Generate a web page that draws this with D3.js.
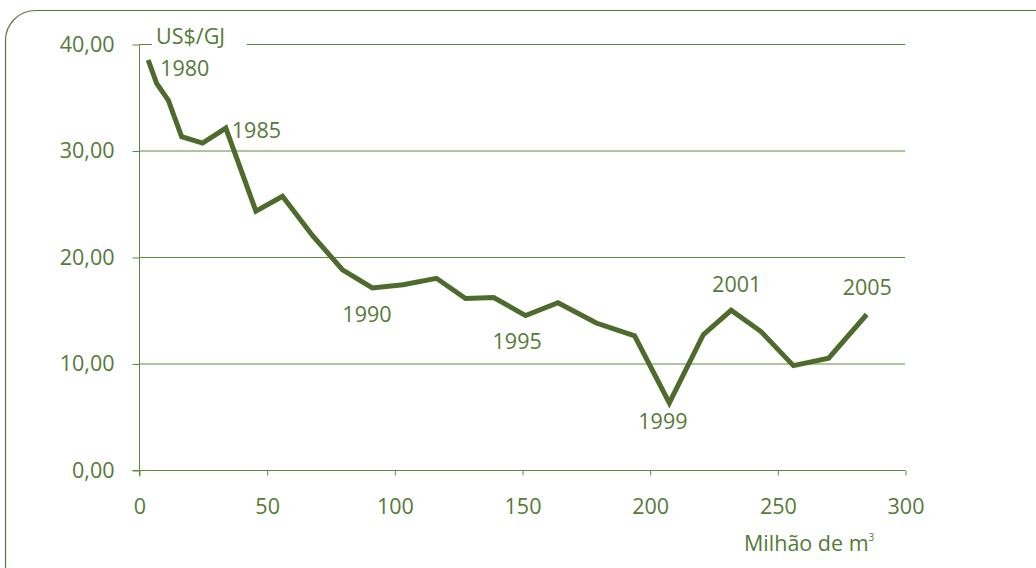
<!DOCTYPE html>
<html>
<head>
<meta charset="utf-8">
<script src="https://cdn.jsdelivr.net/npm/d3@7"></script>
<style>
  html, body { margin: 0; padding: 0; background: #fff; }
  svg { display: block; }
  text { font-family: "Open Sans", "Lato", sans-serif; fill: #557a38; }
</style>
</head>
<body>
<svg id="chart" width="1036" height="568"></svg>
<script>
// Gas price (US$/GJ) against annual volume (million m³), 1980–2005
const years  = [1980,1981,1982,1983,1984,1985,1986,1987,1988,1989,1990,1991,1992,
                1993,1994,1995,1996,1997,1998,1999,2000,2001,2002,2003,2004,2005];
const volume = [3.6,6.9,11.5,16.7,24.9,34.0,45.8,56.2,68.0,79.7,91.4,103.4,116.5,
                127.9,138.9,151.4,164.1,179.1,194.1,207.7,221.0,231.9,243.6,256.3,270.1,285.0];
const price  = [38.5,36.3,34.7,31.3,30.7,32.1,24.3,25.7,22.0,18.8,17.1,17.4,18.0,
                16.1,16.2,14.5,15.7,13.8,12.6,6.3,12.7,15.0,13.0,9.8,10.5,14.6];
const labelledYears = [1980,1985,1990,1995,1999,2001,2005];
const xTicks = [0,50,100,150,200,250,300];
const yTicks = [0,10,20,30,40];

const svg = d3.select("#chart");
const green = "#557a38";
const gridGreen = "#5e8a3c";
const lineGreen = "#4d6b2c";
const fs = "21.5px";

// rounded frame
svg.append("rect")
  .attr("x", 5.5).attr("y", 10.5)
  .attr("width", 1060).attr("height", 585)
  .attr("rx", 30).attr("ry", 30)
  .attr("fill", "none").attr("stroke", green).attr("stroke-width", 1.2);

const x = d3.scaleLinear().domain([0, 300]).range([139, 905]);
const y = d3.scaleLinear().domain([0, 40]).range([470, 44]);

// horizontal gridlines
svg.append("g").selectAll("line").data(yTicks.filter(d => d > 0)).join("line")
  .attr("x1", x(0)).attr("x2", x(300))
  .attr("y1", d => y(d) + 0.5).attr("y2", d => y(d) + 0.5)
  .attr("stroke", gridGreen).attr("stroke-width", 1);

// y axis
const yAxis = svg.append("g")
  .attr("transform", `translate(${x(0) + 0.5},0.5)`)
  .call(d3.axisLeft(y).tickValues(yTicks).tickSize(7).tickPadding(18)
    .tickFormat(d => d3.format(".2f")(d).replace(".", ",")));
yAxis.select(".domain").attr("stroke", gridGreen).attr("d", `M0,${y(40)}V${y(0) + 6}`);
yAxis.selectAll(".tick line").attr("stroke", gridGreen);
yAxis.selectAll(".tick text").attr("fill", green)
  .style("font-size", fs).style("font-family", "'Open Sans', sans-serif");

// x axis
const xAxis = svg.append("g")
  .attr("transform", `translate(0.5,${y(0) + 0.5})`)
  .call(d3.axisBottom(x).tickValues(xTicks).tickSize(5).tickPadding(23));
xAxis.select(".domain").attr("stroke", gridGreen).attr("d", `M${x(0) - 7},0H${x(300)}`);
xAxis.selectAll(".tick line").attr("stroke", gridGreen);
xAxis.selectAll(".tick text").attr("fill", green)
  .style("font-size", fs).style("font-family", "'Open Sans', sans-serif");

// unit label on the top gridline, with a white knock-out behind it
svg.append("rect").attr("x", 152).attr("y", 28).attr("width", 95).attr("height", 24).attr("fill", "#fff");
svg.append("text").attr("x", 156).attr("y", 44)
  .style("font-size", fs).text("US$/GJ");

// axis title
const xt = svg.append("text").attr("x", 744).attr("y", 551).style("font-size", fs);
xt.append("tspan").text("Milhão de m");
xt.append("tspan").attr("dy", -10).style("font-size", "10px").text("3");

// price line
const pts = years.map((yr, i) => ({ year: yr, v: volume[i], p: price[i] }));
svg.append("path").datum(pts)
  .attr("fill", "none").attr("stroke", lineGreen).attr("stroke-width", 5)
  .attr("stroke-linejoin", "miter")
  .attr("d", d3.line().x(d => x(d.v)).y(d => y(d.p)));

// year annotations: offset relative to each point
const offsets = {
  1980: [12, 16], 1985: [6, 10], 1990: [-30, 34], 1995: [-33, 33],
  1999: [-31, 26], 2001: [-19, -18], 2005: [-24, -20]
};
svg.append("g").selectAll("text")
  .data(pts.filter(d => labelledYears.includes(d.year))).join("text")
  .attr("x", d => x(d.v) + offsets[d.year][0])
  .attr("y", d => y(d.p) + offsets[d.year][1])
  .style("font-size", fs)
  .text(d => d.year);
</script>
</body>
</html>
